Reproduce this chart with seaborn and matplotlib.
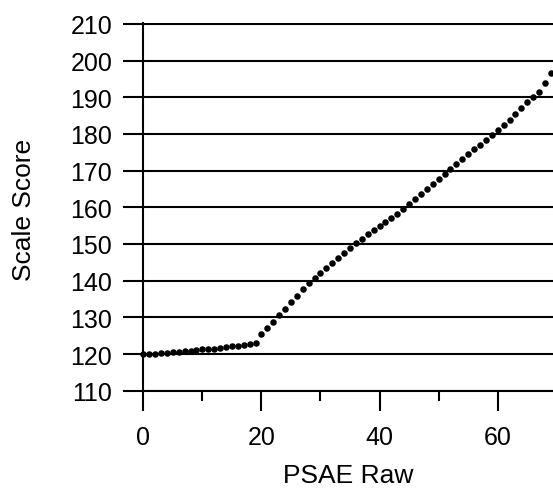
import numpy as np
import pandas as pd
import seaborn as sns
import matplotlib
matplotlib.use("Agg")
import matplotlib.pyplot as plt
from matplotlib.ticker import MultipleLocator

# PSAE raw score -> scale score (one dot per raw score)
raw_scores = list(range(0, 70))
scale_scores = [
    120.0, 120.0, 120.0, 120.2, 120.4, 120.5, 120.6, 120.8, 120.9, 121.1,
    121.3, 121.4, 121.5, 121.7, 121.9, 122.1, 122.3, 122.5, 122.7, 123.1,
    125.4, 127.2, 128.8, 130.6, 132.4, 134.2, 135.7, 137.6, 139.3, 140.8,
    142.2, 143.4, 144.9, 146.2, 147.4, 148.9, 150.2, 151.3, 152.6, 153.7,
    154.8, 155.9, 157.1, 158.3, 159.6, 161.0, 162.3, 163.7, 165.0, 166.3,
    167.7, 169.1, 170.3, 171.7, 173.1, 174.4, 175.8, 177.1, 178.4, 179.8,
    181.1, 182.4, 183.8, 185.4, 187.1, 188.6, 190.1, 191.5, 194.0, 196.6,
]
y_ticks = list(range(110, 211, 10))
x_major = [0, 20, 40, 60]

df = pd.DataFrame({"PSAE Raw": raw_scores, "Scale Score": scale_scores})

sns.set_style("white")
plt.rcParams["font.family"] = ["Liberation Sans", "DejaVu Sans"]
plt.rcParams["text.color"] = "black"
plt.rcParams["axes.labelcolor"] = "black"
plt.rcParams["xtick.color"] = "black"
plt.rcParams["ytick.color"] = "black"

fig = plt.figure(figsize=(5.53, 4.89), dpi=100)
ax = fig.add_axes([0.2591, 0.199, 0.7409, 0.7513])

sns.scatterplot(data=df, x="PSAE Raw", y="Scale Score", ax=ax,
                color="black", s=22, linewidth=0, zorder=3, clip_on=False)

ax.set_xlim(0, 69.36)
ax.set_ylim(110, 210.15)
ax.set_yticks(y_ticks)
ax.set_xticks(x_major)
ax.xaxis.set_minor_locator(MultipleLocator(10))

# black horizontal rules across the plot
ax.grid(axis="y", color="black", linewidth=1.5)
ax.grid(axis="x", visible=False)

for side in ["top", "right"]:
    ax.spines[side].set_visible(False)
for side in ["left", "bottom"]:
    ax.spines[side].set_color("black")
    ax.spines[side].set_linewidth(1.5)

ax.tick_params(axis="y", which="major", direction="out", length=14.4, width=1.5,
               color="black", labelcolor="black", labelsize=18, pad=8, left=True)
ax.tick_params(axis="x", which="major", direction="out", length=14.4, width=1.5,
               color="black", labelcolor="black", labelsize=18, pad=10, bottom=True)
ax.tick_params(axis="x", which="minor", direction="out", length=7.2, width=1.5,
               color="black", bottom=True)

ax.set_xlabel("PSAE Raw", fontsize=19, color="black")
ax.set_ylabel("Scale Score", fontsize=19, color="black", va="center")
ax.xaxis.set_label_coords(0.5, -0.197)
ax.yaxis.set_label_coords(-0.292, 0.495)

fig.savefig("out.png", dpi=100)
